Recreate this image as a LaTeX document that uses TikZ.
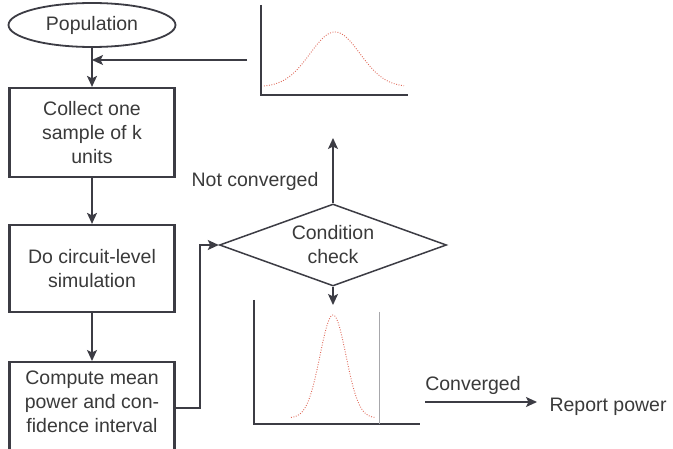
\documentclass[tikz,border=0pt]{standalone}
\usepackage{fontspec}
\setmainfont{Liberation Sans}
\usetikzlibrary{shapes.geometric,arrows.meta}
\definecolor{ink}{HTML}{3C3C44}
\definecolor{txt}{HTML}{3A3A3A}
\definecolor{curve}{HTML}{E06A5A}
\tikzset{
  every node/.style={font=\fontsize{19.5}{24}\selectfont, text=txt},
  stepbox/.style={draw=ink, line width=2.2pt, minimum width=165pt, inner sep=0pt, align=center},
  conn/.style={draw=ink, line width=1.5pt, -{Stealth[length=11pt,width=10pt,inset=2.5pt]}},
  axis/.style={draw=ink, line width=2.2pt},
  gauss/.style={draw=curve, line width=0.9pt, dash pattern=on 0.9pt off 1.6pt},
}
\begin{document}
\begin{tikzpicture}[x=1pt,y=-1pt]
\useasboundingbox (0,0) rectangle (673,449);
\clip (0,0) rectangle (673,449);
\fill[white] (0,0) rectangle (673,449);

% nodes
\node[draw=ink, line width=1.8pt, ellipse, minimum width=167pt, minimum height=44pt, inner sep=0pt] (pop) at (92,25) {Population};
\node[stepbox, minimum height=89pt] (collect) at (92,132.5) {Collect one\\sample of k\\units};
\node[stepbox, minimum height=87pt] (sim) at (92,268.5) {Do circuit-level\\simulation};
\node[stepbox, minimum height=96pt, anchor=north] (comp) at (92,361) {};
\node[align=center] (comptext) at (92,402) {Compute mean\\power and con-\\fidence interval};
\node[draw=ink, line width=1.5pt, diamond, aspect=2.77, minimum width=227pt, minimum height=82pt, inner sep=0pt, align=center] (cond) at (333,245) {Condition\\check};
\node (notconv) at (255,181) {Not converged};
\node (conv) at (473,385) {Converged};
\node[anchor=west] (report) at (546,407) {Report power};

% coordinates
\coordinate (feed) at (247,60);
\coordinate (up) at (333,138);
\coordinate (bend) at (200,408);
\coordinate (cstart) at (425,402);
\coordinate (cend) at (537,402);
\coordinate (plotin) at (333,305);

% connectors
\draw[conn] (pop.south) -- (collect.north);
\draw[conn] (feed) -- (feed -| pop.south);
\draw[conn] (collect.south) -- (sim.north);
\draw[conn] (sim.south) -- (comp.north);
\draw[conn] (comp.east |- bend) -- (bend) |- (cond.west);
\draw[conn] (cond.north) -- (up);
\draw[conn] (cond.south) -- (plotin);
\draw[conn] (cstart) -- (cend);

% top plot
\draw[axis] (261,5) -- (261,95) -- (408,95);
\draw[gauss] plot[domain=264:404, samples=90, smooth] (\x, {87 - 55*exp(-((\x-335)*(\x-335))/1250)});

% bottom plot
\draw[axis] (254,300) -- (254,424) -- (420,424);
\draw[draw=ink!45, line width=1pt] (379,312) -- (379,424);
\draw[gauss] plot[domain=291:375, samples=90, smooth] (\x, {418 - 103*exp(-((\x-333)*(\x-333))/338)});
\end{tikzpicture}
\end{document}
